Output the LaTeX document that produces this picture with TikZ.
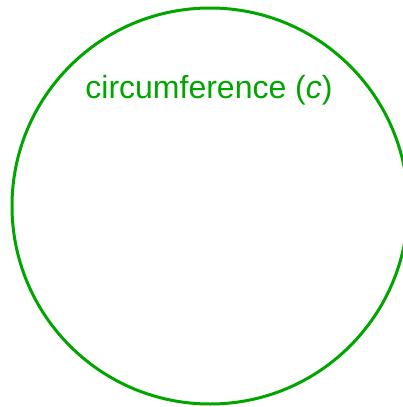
\documentclass[tikz,border=0pt]{standalone}
\usepackage{fontspec}
\setmainfont{Liberation Sans}
\definecolor{cgreen}{RGB}{0,165,0}
\begin{document}
\begin{tikzpicture}[x=1pt,y=-1pt,
  ring/.style={draw=cgreen,line width=3pt},
  lbl/.style={text=cgreen,font=\fontsize{32}{36}\selectfont,anchor=base,inner sep=0pt}]
\useasboundingbox (0,0) rectangle (402,407);
\node[ring,circle,minimum size=396pt,inner sep=0pt] (c) at (210,206) {};
\node[lbl] (t) at (209,98) {circumference (\textit{c})};
\end{tikzpicture}
\end{document}
